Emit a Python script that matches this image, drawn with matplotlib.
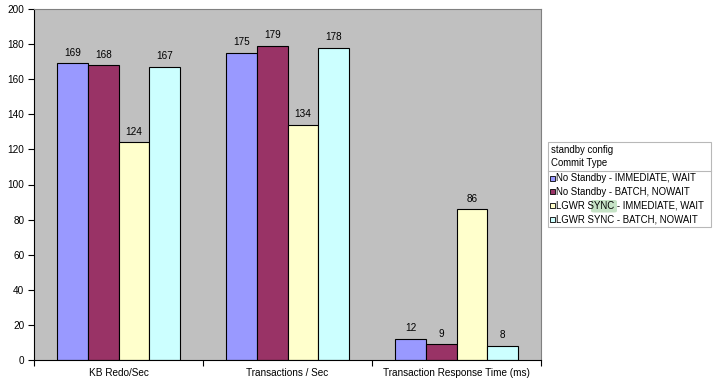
import numpy as np
import matplotlib
matplotlib.use('Agg')
import matplotlib.pyplot as plt
from matplotlib.lines import Line2D
from matplotlib.patches import Rectangle, FancyBboxPatch

plt.rcParams['font.family'] = ['Liberation Sans', 'DejaVu Sans']

categories = ['KB Redo/Sec', 'Transactions / Sec', 'Transaction Response Time (ms)']
series = ['No Standby - IMMEDIATE, WAIT', 'No Standby - BATCH, NOWAIT',
          'LGWR SYNC - IMMEDIATE, WAIT', 'LGWR SYNC - BATCH, NOWAIT']
values = [
    [169, 175, 12],
    [168, 179, 9],
    [124, 134, 86],
    [167, 178, 8],
]
colors = ['#9999FF', '#993366', '#FFFFCC', '#CCFFFF']

fig = plt.figure(figsize=(7.17, 3.83), dpi=100)
fig.patch.set_facecolor('white')
ax = fig.add_axes([34 / 717, 1 - 360 / 383, (541 - 34) / 717, (360 - 9) / 383])
ax.set_facecolor('#C0C0C0')

x = np.arange(len(categories))
w = 0.181
for i, (name, vals, c) in enumerate(zip(series, values, colors)):
    pos = x + (i - 1.5) * w
    ax.bar(pos, vals, width=w, color=c, edgecolor='#000000', linewidth=0.8, label=name)
    for p, v in zip(pos, vals):
        ax.annotate(str(v), (p, v), xytext=(0, 4), textcoords='offset points',
                    ha='center', va='bottom', fontsize=7.2)

ax.set_xlim(-0.5, len(categories) - 0.5)
ax.set_ylim(0, 200)
ax.set_yticks(np.arange(0, 201, 20))
ax.set_xticks(x)
ax.set_xticklabels(categories)
ax.set_xticks(np.arange(-0.5, len(categories), 1), minor=True)
ax.tick_params(axis='x', which='major', length=0, pad=6, labelsize=7.2)
ax.tick_params(axis='x', which='minor', length=4, direction='out', width=0.8)
ax.tick_params(axis='y', length=4, direction='out', width=0.8, labelsize=7.2, pad=3)
for s in ['top', 'right']:
    ax.spines[s].set_color('#808080')
    ax.spines[s].set_linewidth(0.8)
for s in ['left', 'bottom']:
    ax.spines[s].set_color('#000000')
    ax.spines[s].set_linewidth(0.8)

# legend box drawn by hand, pixel positions
W, H = 717, 383
def fx(px):
    return px / W
def fy(py):
    return 1 - py / H

fig.add_artist(Rectangle((fx(548), fy(227)), fx(711) - fx(548), fy(142) - fy(227),
                         transform=fig.transFigure, facecolor='white',
                         edgecolor='#B8B8B8', linewidth=0.8))
# green highlight over "SYNC" as in the screenshot
fig.add_artist(FancyBboxPatch((fx(591), fy(212.5)), fx(617) - fx(591), fy(200) - fy(212.5),
                              boxstyle='round,pad=0,rounding_size=0.004',
                              transform=fig.transFigure, facecolor='#C6E3C6',
                              edgecolor='none'))
fig.text(fx(551), fy(150), 'standby config', fontsize=6.9, va='center')
fig.text(fx(551), fy(163), 'Commit Type', fontsize=6.9, va='center')
fig.add_artist(Line2D([fx(548), fx(711)], [fy(171.5), fy(171.5)],
                      transform=fig.transFigure, color='#B8B8B8', linewidth=0.8))
for i, (name, c) in enumerate(zip(series, colors)):
    yy = 178 + i * 13.8
    fig.add_artist(Rectangle((fx(550), fy(yy + 2.5)), fx(555) - fx(550), fy(yy - 2.5) - fy(yy + 2.5),
                             transform=fig.transFigure, facecolor=c,
                             edgecolor='#000000', linewidth=0.6))
    fig.text(fx(556), fy(yy), name, fontsize=6.9, va='center')

fig.savefig('out.png', dpi=100)
